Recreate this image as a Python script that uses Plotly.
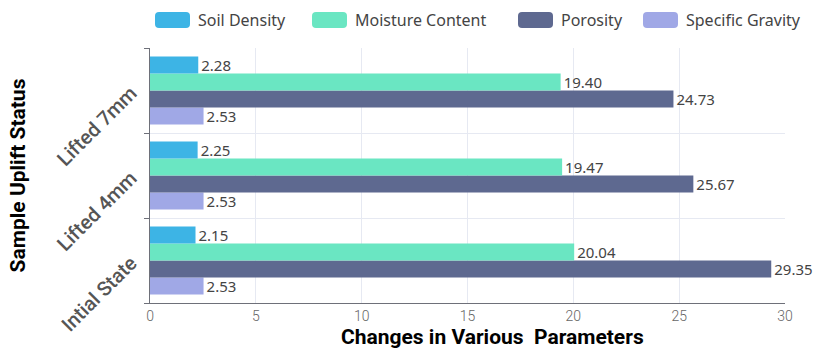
import plotly.graph_objects as go

categories = ["Intial State", "Lifted 4mm", "Lifted 7mm"]
series_names = ["Soil Density", "Moisture Content", "Porosity", "Specific Gravity"]
soil_density = [2.15, 2.25, 2.28]
moisture_content = [20.04, 19.47, 19.40]
porosity = [29.35, 25.67, 24.73]
specific_gravity = [2.53, 2.53, 2.53]
colors = ["#3db4e5", "#6ae6c2", "#5e6990", "#a0a8e6"]
x_ticks = [0, 5, 10, 15, 20, 25, 30]
x_title = "Changes in Various  Parameters"
y_title = "Sample Uplift Status"

values = [soil_density, moisture_content, porosity, specific_gravity]

W, H = 820, 349
ML, MR, MT, MB = 150, 35, 48, 46
PW, PH = W - ML - MR, H - MT - MB


def px(x):
    return (x - ML) / PW


def py(y):
    return (H - MB - y) / PH


fig = go.Figure()
# add in reverse so Soil Density appears at the top of each group
for name, vals, col in reversed(list(zip(series_names, values, colors))):
    fig.add_trace(go.Bar(
        name=name, y=categories, x=vals, orientation="h",
        marker=dict(color=col, line=dict(width=0)),
        text=[f"{v:.2f}" for v in vals], textposition="outside",
        constraintext="none",
        textfont=dict(family="Noto Sans", size=15, color="#444444"),
        cliponaxis=False, showlegend=False,
    ))

# custom legend (rounded icons like the reference)
legend_icon_left = [155, 312, 518, 643]
icon_w, icon_h, icon_top, r = 35, 16, 12, 4
shapes, annotations = [], []
for name, col, lx in zip(series_names, colors, legend_icon_left):
    x0, x1 = lx, lx + icon_w
    y0, y1 = icon_top, icon_top + icon_h
    path = (f"M {px(x0 + r)} {py(y0)} L {px(x1 - r)} {py(y0)} Q {px(x1)} {py(y0)} {px(x1)} {py(y0 + r)} "
            f"L {px(x1)} {py(y1 - r)} Q {px(x1)} {py(y1)} {px(x1 - r)} {py(y1)} "
            f"L {px(x0 + r)} {py(y1)} Q {px(x0)} {py(y1)} {px(x0)} {py(y1 - r)} "
            f"L {px(x0)} {py(y0 + r)} Q {px(x0)} {py(y0)} {px(x0 + r)} {py(y0)} Z")
    shapes.append(dict(type="path", path=path, xref="paper", yref="paper",
                       fillcolor=col, line=dict(width=0)))
    annotations.append(dict(text=name, xref="paper", yref="paper", x=px(x1 + 6),
                            y=py((y0 + y1) / 2), xanchor="left", yanchor="middle",
                            showarrow=False,
                            font=dict(family="Noto Sans", size=16, color="#444444")))

# x-axis title (offset to the right as in the reference)
annotations.append(dict(text=f"<b>{x_title}</b>", xref="paper", yref="paper",
                        x=px(492), y=py(337), xanchor="center", yanchor="middle",
                        showarrow=False,
                        font=dict(family="Roboto", size=21, color="#000000")))

fig.update_layout(
    width=W, height=H,
    margin=dict(l=ML, r=MR, t=MT, b=MB),
    paper_bgcolor="white", plot_bgcolor="white",
    barmode="group", bargap=0.2, bargroupgap=0,
    showlegend=False, shapes=shapes, annotations=annotations,
)
fig.update_xaxes(range=[0, 30], tickvals=x_ticks, showgrid=True, gridcolor="#e6e9f2",
                 zeroline=False, showline=True, linecolor="#6e7079", linewidth=1,
                 automargin=False,
                 tickfont=dict(family="Roboto", size=14, color="#666666", weight=300))
fig.update_yaxes(categoryorder="array", categoryarray=categories, tickson="boundaries",
                 ticks="outside", ticklen=5, tickcolor="#6e7079",
                 showgrid=True, gridcolor="#e6e9f2", showline=True, linecolor="#6e7079",
                 tickangle=-45, ticklabelstandoff=14, automargin=False,
                 tickfont=dict(family="Roboto", size=20, color="#555555", weight=500),
                 title=dict(text=f"<b>{y_title}</b>",
                            font=dict(family="Roboto", size=21, color="#000000"),
                            standoff=20))

fig.write_html("out.html")
